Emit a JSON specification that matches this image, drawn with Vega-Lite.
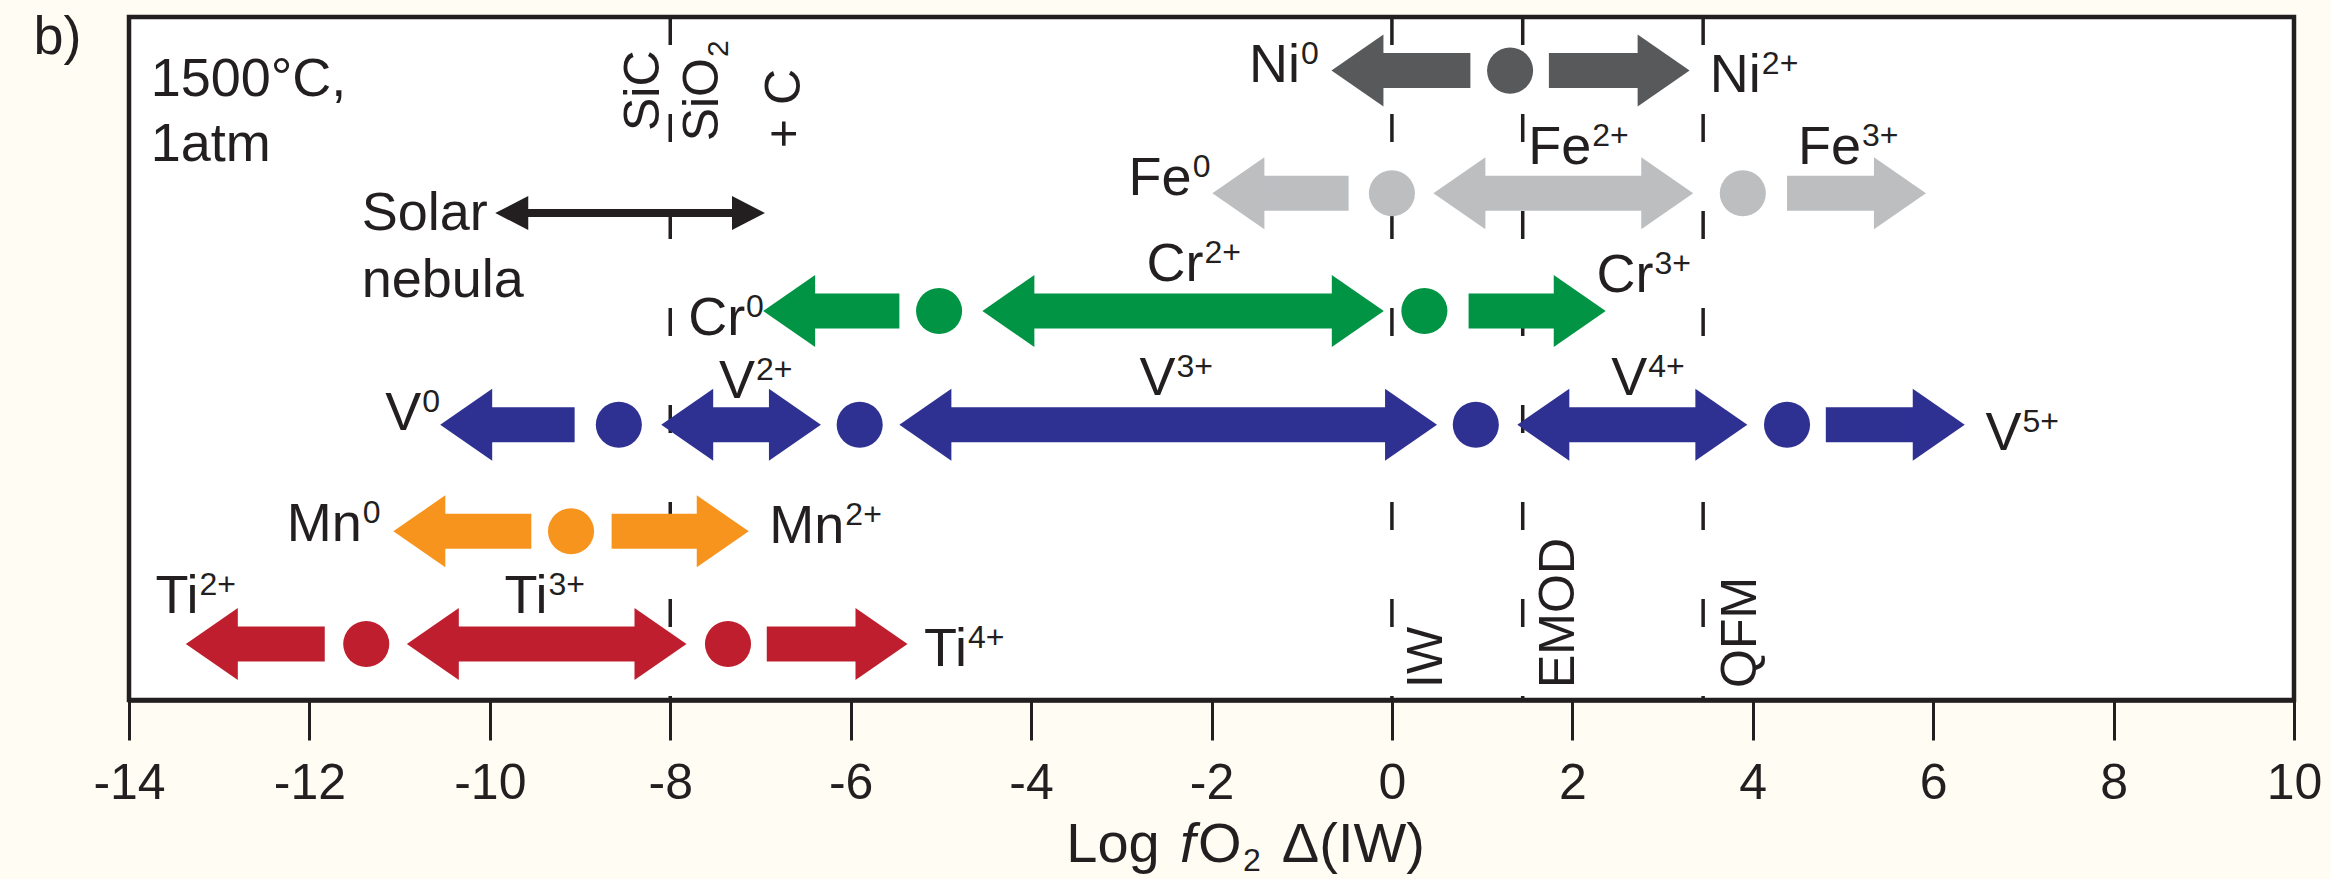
{
  "$schema": "https://vega.github.io/schema/vega-lite/v6.json",
  "width": 2165,
  "height": 683,
  "autosize": {"type": "none"},
  "padding": {"left": 129, "top": 17, "right": 37, "bottom": 179},
  "background": "#fffcf3",
  "config": {
    "view": {"stroke": "#231f20", "strokeWidth": 4.5, "fill": "#ffffff"},
    "font": "Liberation Sans",
    "text": {"font": "Liberation Sans", "color": "#231f20", "baseline": "alphabetic"}
  },
  "datasets": {
    "buffers": [
      {"name": "SiC/SiO2+C", "x": -8},
      {"name": "IW", "x": 0},
      {"name": "EMOD", "x": 1.45},
      {"name": "QFM", "x": 3.45}
    ],
    "arrows": [
      {"el": "Ni", "lo": -0.67, "hi": 0.87, "head": "left", "y": 92.15},
      {"el": "Ni", "lo": 1.74, "hi": 3.3, "head": "right", "y": 92.15},
      {"el": "Fe", "lo": -1.99, "hi": -0.48, "head": "left", "y": 74.2},
      {"el": "Fe", "lo": 0.46, "hi": 3.34, "head": "both", "y": 74.2},
      {"el": "Fe", "lo": 4.38, "hi": 5.92, "head": "right", "y": 74.2},
      {"el": "Cr", "lo": -6.97, "hi": -5.46, "head": "left", "y": 56.95},
      {"el": "Cr", "lo": -4.54, "hi": -0.09, "head": "both", "y": 56.95},
      {"el": "Cr", "lo": 0.85, "hi": 2.37, "head": "right", "y": 56.95},
      {"el": "V", "lo": -10.55, "hi": -9.06, "head": "left", "y": 40.3},
      {"el": "V", "lo": -8.1, "hi": -6.33, "head": "both", "y": 40.3},
      {"el": "V", "lo": -5.46, "hi": 0.5, "head": "both", "y": 40.3},
      {"el": "V", "lo": 1.39, "hi": 3.94, "head": "both", "y": 40.3},
      {"el": "V", "lo": 4.81, "hi": 6.35, "head": "right", "y": 40.3},
      {"el": "Mn", "lo": -11.07, "hi": -9.54, "head": "left", "y": 24.7},
      {"el": "Mn", "lo": -8.65, "hi": -7.13, "head": "right", "y": 24.7},
      {"el": "Ti", "lo": -13.37, "hi": -11.83, "head": "left", "y": 8.2},
      {"el": "Ti", "lo": -10.92, "hi": -7.82, "head": "both", "y": 8.2},
      {"el": "Ti", "lo": -6.93, "hi": -5.37, "head": "right", "y": 8.2}
    ],
    "dots": [
      {"el": "Ni", "x": 1.31, "y": 92.15},
      {"el": "Fe", "x": 0.0, "y": 74.2},
      {"el": "Fe", "x": 3.89, "y": 74.2},
      {"el": "Cr", "x": -5.02, "y": 56.95},
      {"el": "Cr", "x": 0.36, "y": 56.95},
      {"el": "V", "x": -8.57, "y": 40.3},
      {"el": "V", "x": -5.9, "y": 40.3},
      {"el": "V", "x": 0.93, "y": 40.3},
      {"el": "V", "x": 4.38, "y": 40.3},
      {"el": "Mn", "x": -9.1, "y": 24.7},
      {"el": "Ti", "x": -11.37, "y": 8.2},
      {"el": "Ti", "x": -7.36, "y": 8.2}
    ],
    "nebula": [
      {"lo": -9.94, "hi": -6.95, "y": 71.3}
    ],
    "ions": [
      {"base": "Ni", "sup": "0", "x": -1.02, "y": 90.5},
      {"base": "Ni", "sup": "2+", "x": 4.09, "y": 89.0},
      {"base": "Fe", "sup": "0", "x": -2.22, "y": 73.9},
      {"base": "Fe", "sup": "2+", "x": 2.21, "y": 78.5},
      {"base": "Fe", "sup": "3+", "x": 5.2, "y": 78.5},
      {"base": "Cr", "sup": "0", "x": -7.17, "y": 53.5},
      {"base": "Cr", "sup": "2+", "x": -2.09, "y": 61.3},
      {"base": "Cr", "sup": "3+", "x": 2.9, "y": 59.8},
      {"base": "V", "sup": "0", "x": -10.76, "y": 39.5},
      {"base": "V", "sup": "2+", "x": -7.06, "y": 44.2},
      {"base": "V", "sup": "3+", "x": -2.4, "y": 44.7},
      {"base": "V", "sup": "4+", "x": 2.83, "y": 44.6},
      {"base": "V", "sup": "5+", "x": 6.98, "y": 36.6},
      {"base": "Mn", "sup": "0", "x": -11.42, "y": 23.3},
      {"base": "Mn", "sup": "2+", "x": -6.07, "y": 23.0},
      {"base": "Ti", "sup": "2+", "x": -13.23, "y": 12.7},
      {"base": "Ti", "sup": "3+", "x": -9.36, "y": 12.7},
      {"base": "Ti", "sup": "4+", "x": -4.71, "y": 5.0}
    ],
    "notes": [
      {"text": "b)", "x": -15.06, "y": 94.6},
      {"text": "1500°C,", "x": -13.76, "y": 88.4},
      {"text": "1atm", "x": -13.76, "y": 78.9},
      {"text": "Solar", "x": -11.42, "y": 68.8},
      {"text": "nebula", "x": -11.42, "y": 59.0}
    ],
    "vlabels": [
      {"text": "IW", "x": 0.56, "y": 1.76},
      {"text": "EMOD", "x": 2.02, "y": 1.76},
      {"text": "QFM", "x": 4.04, "y": 1.76},
      {"text": "SiC", "x": -8.12, "y": 83.3},
      {"text": "+ C", "x": -6.56, "y": 80.8}
    ]
  },
  "layer": [
    {
      "data": {"name": "buffers"},
      "mark": {"type": "rule", "color": "#231f20", "strokeWidth": 3.5, "strokeDash": [28, 69]},
      "encoding": {
        "x": {
          "field": "x", "type": "quantitative", "title": null,
          "scale": {"domain": [-14, 10], "nice": false, "zero": false},
          "axis": {
            "values": [-14, -12, -10, -8, -6, -4, -2, 0, 2, 4, 6, 8, 10],
            "grid": false,
            "domainColor": "#231f20", "domainWidth": 4.5,
            "tickColor": "#231f20", "tickWidth": 3, "tickSize": 40,
            "labelFont": "Liberation Sans", "labelFontSize": 50, "labelColor": "#231f20",
            "labelPadding": 58, "labelBaseline": "alphabetic",
            "labelFlush": false, "labelOverlap": false,
            "labelExpr": "toString(datum.value)"
          }
        },
        "y": {"datum": 100, "type": "quantitative", "scale": {"domain": [0, 100], "nice": false, "zero": false}, "axis": null},
        "y2": {"datum": 0}
      }
    },
    {
      "data": {"name": "arrows"},
      "transform": [{"filter": "datum.head === 'left'"}],
      "mark": {"type": "rule", "strokeWidth": 35, "strokeCap": "butt", "xOffset": 32},
      "encoding": {
        "x": {"field": "lo", "type": "quantitative", "title": null},
        "x2": {"field": "hi"},
        "y": {"field": "y", "type": "quantitative", "axis": null},
        "color": {"field": "el", "type": "nominal", "legend": null,
          "scale": {"domain": ["Ni", "Fe", "Cr", "V", "Mn", "Ti"], "range": ["#58595b", "#bcbec0", "#009444", "#2e3192", "#f7941d", "#be1e2d"]}}
      }
    },
    {
      "data": {"name": "arrows"},
      "transform": [{"filter": "datum.head === 'right'"}],
      "mark": {"type": "rule", "strokeWidth": 35, "strokeCap": "butt", "x2Offset": -32},
      "encoding": {
        "x": {"field": "lo", "type": "quantitative", "title": null},
        "x2": {"field": "hi"},
        "y": {"field": "y", "type": "quantitative", "axis": null},
        "color": {"field": "el", "type": "nominal", "legend": null}
      }
    },
    {
      "data": {"name": "arrows"},
      "transform": [{"filter": "datum.head === 'both'"}],
      "mark": {"type": "rule", "strokeWidth": 35, "strokeCap": "butt", "xOffset": 32, "x2Offset": -32},
      "encoding": {
        "x": {"field": "lo", "type": "quantitative", "title": null},
        "x2": {"field": "hi"},
        "y": {"field": "y", "type": "quantitative", "axis": null},
        "color": {"field": "el", "type": "nominal", "legend": null}
      }
    },
    {
      "data": {"name": "arrows"},
      "transform": [{"filter": "datum.head !== 'right'"}],
      "mark": {"type": "point", "shape": "M0,0L1.444,-1L1.444,1Z", "size": 5184, "filled": true, "opacity": 1, "strokeWidth": 0},
      "encoding": {
        "x": {"field": "lo", "type": "quantitative", "title": null},
        "y": {"field": "y", "type": "quantitative", "axis": null},
        "color": {"field": "el", "type": "nominal", "legend": null}
      }
    },
    {
      "data": {"name": "arrows"},
      "transform": [{"filter": "datum.head !== 'left'"}],
      "mark": {"type": "point", "shape": "M0,0L-1.444,-1L-1.444,1Z", "size": 5184, "filled": true, "opacity": 1, "strokeWidth": 0},
      "encoding": {
        "x": {"field": "hi", "type": "quantitative", "title": null},
        "y": {"field": "y", "type": "quantitative", "axis": null},
        "color": {"field": "el", "type": "nominal", "legend": null}
      }
    },
    {
      "data": {"name": "dots"},
      "mark": {"type": "circle", "size": 2124, "opacity": 1, "strokeWidth": 0},
      "encoding": {
        "x": {"field": "x", "type": "quantitative", "title": null},
        "y": {"field": "y", "type": "quantitative", "axis": null},
        "color": {"field": "el", "type": "nominal", "legend": null}
      }
    },
    {
      "data": {"name": "nebula"},
      "mark": {"type": "rule", "strokeWidth": 8, "strokeCap": "butt", "color": "#231f20", "xOffset": 20, "x2Offset": -20},
      "encoding": {
        "x": {"field": "lo", "type": "quantitative", "title": null},
        "x2": {"field": "hi"},
        "y": {"field": "y", "type": "quantitative", "axis": null}
      }
    },
    {
      "data": {"name": "nebula"},
      "mark": {"type": "point", "shape": "M0,0L1.94,-1L1.94,1Z", "size": 1156, "filled": true, "opacity": 1, "strokeWidth": 0, "color": "#231f20"},
      "encoding": {
        "x": {"field": "lo", "type": "quantitative", "title": null},
        "y": {"field": "y", "type": "quantitative", "axis": null}
      }
    },
    {
      "data": {"name": "nebula"},
      "mark": {"type": "point", "shape": "M0,0L-1.94,-1L-1.94,1Z", "size": 1156, "filled": true, "opacity": 1, "strokeWidth": 0, "color": "#231f20"},
      "encoding": {
        "x": {"field": "hi", "type": "quantitative", "title": null},
        "y": {"field": "y", "type": "quantitative", "axis": null}
      }
    },
    {
      "data": {"name": "ions"},
      "mark": {"type": "text", "align": "right", "fontSize": 54},
      "encoding": {
        "x": {"field": "x", "type": "quantitative", "title": null},
        "y": {"field": "y", "type": "quantitative", "axis": null},
        "text": {"field": "base"}
      }
    },
    {
      "data": {"name": "ions"},
      "mark": {"type": "text", "align": "left", "fontSize": 32, "dx": 1, "dy": -18},
      "encoding": {
        "x": {"field": "x", "type": "quantitative", "title": null},
        "y": {"field": "y", "type": "quantitative", "axis": null},
        "text": {"field": "sup"}
      }
    },
    {
      "data": {"name": "notes"},
      "mark": {"type": "text", "align": "left", "fontSize": 54},
      "encoding": {
        "x": {"field": "x", "type": "quantitative", "title": null},
        "y": {"field": "y", "type": "quantitative", "axis": null},
        "text": {"field": "text"}
      }
    },
    {
      "data": {"name": "vlabels"},
      "mark": {"type": "text", "align": "left", "angle": 270, "fontSize": 50},
      "encoding": {
        "x": {"field": "x", "type": "quantitative", "title": null},
        "y": {"field": "y", "type": "quantitative", "axis": null},
        "text": {"field": "text"}
      }
    },
    {
      "data": {"values": [{"text": "SiO", "x": -7.47, "y": 94.0}]},
      "mark": {"type": "text", "align": "right", "angle": 270, "fontSize": 50},
      "encoding": {
        "x": {"field": "x", "type": "quantitative", "title": null},
        "y": {"field": "y", "type": "quantitative", "axis": null},
        "text": {"field": "text"}
      }
    },
    {
      "data": {"values": [{"text": "2", "x": -7.47, "y": 94.0}]},
      "mark": {"type": "text", "align": "left", "angle": 270, "fontSize": 30, "dx": 1, "dy": 10},
      "encoding": {
        "x": {"field": "x", "type": "quantitative", "title": null},
        "y": {"field": "y", "type": "quantitative", "axis": null},
        "text": {"field": "text"}
      }
    },
    {
      "data": {"values": [
        {"text": "Log", "x": -3.61, "y": -23.7},
        {"text": "O", "x": -2.15, "y": -23.7},
        {"text": "Δ(IW)", "x": -1.22, "y": -23.7}
      ]},
      "mark": {"type": "text", "align": "left", "fontSize": 56},
      "encoding": {
        "x": {"field": "x", "type": "quantitative", "title": null},
        "y": {"field": "y", "type": "quantitative", "axis": null},
        "text": {"field": "text"}
      }
    },
    {
      "data": {"values": [{"text": "f", "x": -2.35, "y": -23.7}]},
      "mark": {"type": "text", "align": "left", "fontSize": 56, "fontStyle": "italic"},
      "encoding": {
        "x": {"field": "x", "type": "quantitative", "title": null},
        "y": {"field": "y", "type": "quantitative", "axis": null},
        "text": {"field": "text"}
      }
    },
    {
      "data": {"values": [{"text": "2", "x": -1.65, "y": -25.0}]},
      "mark": {"type": "text", "align": "left", "fontSize": 32},
      "encoding": {
        "x": {"field": "x", "type": "quantitative", "title": null},
        "y": {"field": "y", "type": "quantitative", "axis": null},
        "text": {"field": "text"}
      }
    }
  ]
}
